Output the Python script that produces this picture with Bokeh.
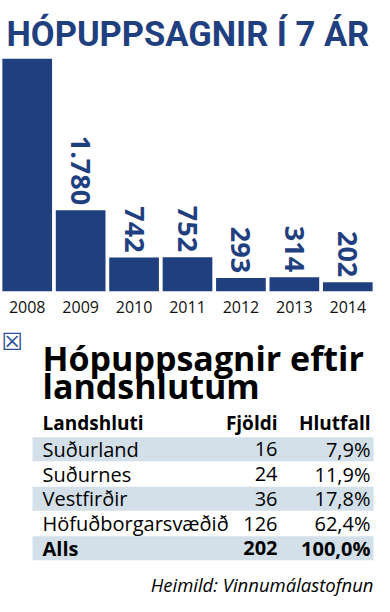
import numpy as np
from bokeh.plotting import figure
from bokeh.layouts import column
from bokeh.models import FactorRange, Range1d, ColumnDataSource
from bokeh.core.properties import value
from bokeh.embed import file_html
from bokeh.resources import INLINE

# ---------------- data ----------------
years = ["2008", "2009", "2010", "2011", "2012", "2013", "2014"]
layoffs = [5100, 1780, 742, 752, 293, 314, 202]
layoff_labels = ["", "1.780", "742", "752", "293", "314", "202"]

table_header = ["Landshluti", "Fjöldi", "Hlutfall"]
regions = ["Suðurland", "Suðurnes", "Vestfirðir", "Höfuðborgarsvæðið", "Alls"]
counts = [16, 24, 36, 126, 202]
shares = ["7,9%", "11,9%", "17,8%", "62,4%", "100,0%"]

title_main = "HÓPUPPSAGNIR Í 7 ÁR"
title_table = ["Hópuppsagnir eftir", "landshlutum"]
source_text = "Heimild: Vinnumálastofnun"

BLUE = "#1f3f7f"
ROWBG = "#d3e0ea"
W = 374
H1 = 318
TOP = 58
BOTTOM = 27
FRAME_H = H1 - TOP - BOTTOM

# ---------------- bar chart ----------------
p = figure(x_range=FactorRange(*years, range_padding=0),
           y_range=Range1d(0, max(layoffs)),
           width=W, height=H1,
           output_backend="svg", toolbar_location=None,
           min_border_left=0, min_border_right=0, min_border_top=TOP, min_border_bottom=BOTTOM)
p.title.text = title_main
p.title.text_font = "Roboto"
p.title.text_font_size = "34.5px"
p.title.text_font_style = "bold"
p.title.text_color = BLUE
p.title.offset = 6
p.title.standoff = 10

p.vbar(x=years, top=layoffs, width=0.93, color=BLUE, line_color=None)

pad_px = 5
lbl_years = [y for y, l in zip(years, layoff_labels) if l]
lbl_vals = np.array([v for v, l in zip(layoffs, layoff_labels) if l], dtype=float)
lbl_text = [l for l in layoff_labels if l]
lsrc = ColumnDataSource(dict(x=lbl_years, y=lbl_vals + pad_px * max(layoffs) / FRAME_H, t=lbl_text))
p.text(x="x", y="y", text="t", source=lsrc, angle=-np.pi / 2,
       text_align="right", text_baseline="middle",
       text_font=value("Open Sans"), text_font_style="bold",
       text_font_size="27px", text_color=BLUE)

p.yaxis.visible = False
p.xaxis.axis_line_color = None
p.xaxis.major_tick_line_color = None
p.xaxis.minor_tick_line_color = None
p.xaxis.major_label_text_font = "Open Sans"
p.xaxis.major_label_text_font_size = "16px"
p.xaxis.major_label_text_color = "#111111"
p.xaxis.major_label_standoff = 3
p.grid.visible = False
p.outline_line_color = None

# ---------------- table ----------------
H2 = 596 - H1
t = figure(x_range=Range1d(0, W), y_range=Range1d(H2, 0),
           width=W, height=H2, output_backend="svg", toolbar_location=None,
           min_border=0)
t.axis.visible = False
t.grid.visible = False
t.outline_line_color = None

col_left, col_count, col_share, bg_left, bg_right = 42, 277, 370, 32, 373
header_y = 104
row_pitch = 24.75
row_y = header_y + row_pitch * (np.arange(len(regions)) + 1) + 2

bg_idx = [0, 2, 4]
t.hbar(y=row_y[bg_idx], left=bg_left, right=bg_right, height=24, color=ROWBG, line_color=None)

# title block
t.text(x=[1], y=[23], text=["☒"], text_font=value("DejaVu Sans"), text_font_size="24px",
       text_color="#2a4f9a", text_baseline="middle", text_align="left")
t.text(x=[col_left] * 2, y=[39, 67], text=title_table, text_font=value("Open Sans"),
       text_font_style="bold", text_font_size="34px", text_color="#000000",
       text_baseline="alphabetic", text_align="left")

# header
t.text(x=[col_left], y=[header_y], text=[table_header[0]], text_font=value("Open Sans"),
       text_font_style="bold", text_font_size="19px", text_color="#000000",
       text_baseline="middle", text_align="left")
t.text(x=[col_count, col_share], y=[header_y] * 2, text=table_header[1:], text_font=value("Open Sans"),
       text_font_style="bold", text_font_size="19px", text_color="#000000",
       text_baseline="middle", text_align="right")

styles = ["normal"] * (len(regions) - 1) + ["bold"]
rsrc = ColumnDataSource(dict(y=row_y, r=regions, c=[str(c) for c in counts], s=shares, st=styles))
t.text(x=col_left, y="y", text="r", source=rsrc, text_font=value("Open Sans"),
       text_font_style="st", text_font_size="20px", text_color="#000000",
       text_baseline="middle", text_align="left")
t.text(x=col_count, y="y", text="c", source=rsrc, text_font=value("Open Sans"),
       text_font_style="st", text_font_size="20px", text_color="#000000",
       text_baseline="middle", text_align="right")
t.text(x=col_share, y="y", text="s", source=rsrc, text_font=value("Open Sans"),
       text_font_style="st", text_font_size="20px", text_color="#000000",
       text_baseline="middle", text_align="right")

t.text(x=[bg_right], y=[266], text=[source_text], text_font=value("Open Sans"),
       text_font_style="italic", text_font_size="18.5px", text_color="#000000",
       text_baseline="middle", text_align="right")

layout = column(p, t, spacing=0)
open("out.html", "w").write(file_html(layout, INLINE))
